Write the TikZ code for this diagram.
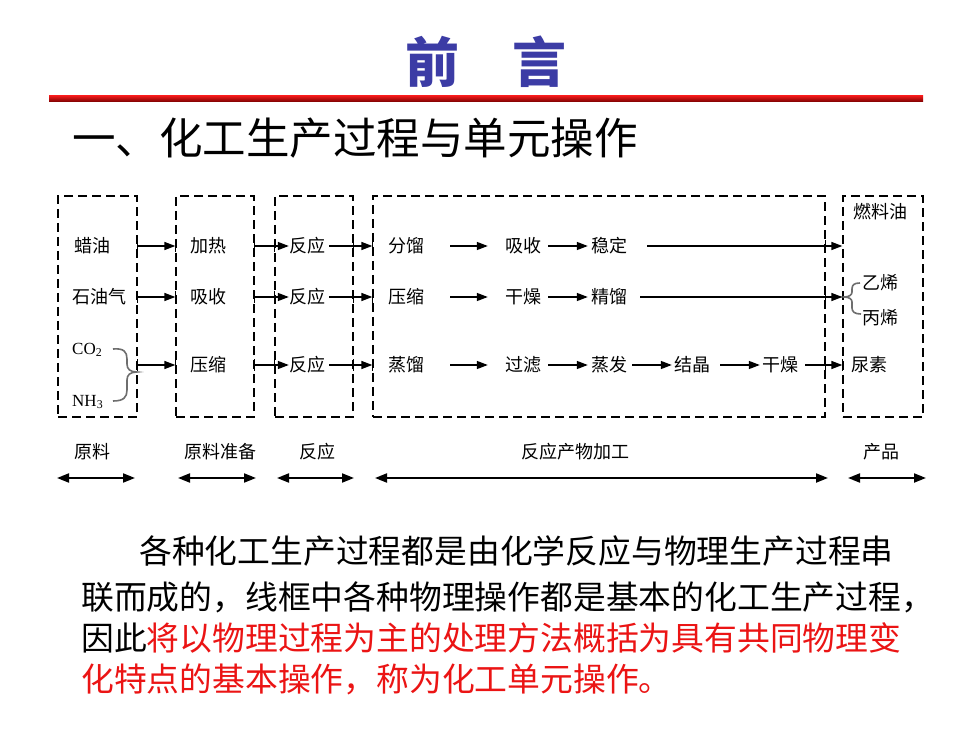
\documentclass[tikz,border=0pt]{standalone}
\usepackage{fontspec}
\setmainfont{Liberation Serif}
\newfontfamily\cjk{Noto Sans CJK SC}
\usetikzlibrary{arrows.meta}
\definecolor{titleblue}{RGB}{60,60,165}
\definecolor{redtxt}{RGB}{235,20,20}
\definecolor{bracegray}{RGB}{110,110,110}
\definecolor{bartop}{RGB}{235,25,25}
\definecolor{barbot}{RGB}{120,0,0}
\begin{document}
\begin{tikzpicture}[x=1pt,y=-1pt,
 box/.style={draw, dash pattern=on 9pt off 5pt, line width=1.3pt, minimum width=#1, minimum height=221pt, inner sep=0pt},
 lbl/.style={font=\cjk\fontsize{18}{20}\selectfont, inner sep=0pt},
 latin/.style={font=\fontsize{17}{19}\selectfont, inner sep=0pt},
 arr/.style={line width=1.4pt, -{Triangle[length=11pt,width=8pt]}},
 tk/.style={line width=1.4pt},
 dbl/.style={line width=2pt, {Triangle[length=12pt,width=9pt]}-{Triangle[length=12pt,width=9pt]}},
 brc/.style={draw=bracegray, line width=1.6pt},
 para/.style={font=\cjk\fontsize{32.8}{40}\selectfont, inner sep=0pt, anchor=west},
]
\fill[white] (0,0) rectangle (980,735);
\useasboundingbox (0,0) rectangle (980,735);

% title
\node[font=\cjk\bfseries\fontsize{54}{60}\selectfont, text=titleblue, inner sep=0pt] (title) at (486,62) {前\hspace{53pt}言};
\shade[top color=bartop, bottom color=barbot] (49,96) rectangle (923,102);
\node[font=\cjk\fontsize{43.5}{48}\selectfont, inner sep=0pt, anchor=west] (head) at (72,138) {一、化工生产过程与单元操作};

% boxes
\node[box=79pt] (b1) at (97.5,306.5) {};
\node[box=78pt] (b2) at (215,306.5) {};
\node[box=78pt] (b3) at (314,306.5) {};
\node[box=452pt] (b4) at (599,306.5) {};
\node[box=80pt] (b5) at (883,306.5) {};

% column 1
\node[lbl] (wax) at (92,246) {蜡油};
\node[lbl, anchor=west] (gas) at (72,297) {石油气};
\node[latin, anchor=west] (co2) at (72,350) {CO\textsubscript{2}};
\node[latin, anchor=west] (nh3) at (72,402) {NH\textsubscript{3}};
% column 2
\node[lbl] (heat) at (208,246) {加热};
\node[lbl] (absA) at (208,297) {吸收};
\node[lbl] (compA) at (208,365) {压缩};
% column 3
\node[lbl] (rx1) at (307,246) {反应};
\node[lbl] (rx2) at (307,297) {反应};
\node[lbl] (rx3) at (307,365) {反应};
% column 4
\node[lbl] (fen) at (406,246) {分馏};
\node[lbl] (ya) at (406,297) {压缩};
\node[lbl] (zheng) at (406,365) {蒸馏};
\node[lbl] (xi) at (523,246) {吸收};
\node[lbl] (gan) at (523,297) {干燥};
\node[lbl] (guo) at (523,365) {过滤};
\node[lbl] (wen) at (609,246) {稳定};
\node[lbl] (jing) at (609,297) {精馏};
\node[lbl] (fa) at (609,365) {蒸发};
\node[lbl] (jie) at (692,365) {结晶};
\node[lbl] (gz) at (780,365) {干燥};
% column 5
\node[lbl] (fuel) at (880,212) {燃料油};
\node[lbl, anchor=west] (yi) at (862,283) {乙烯};
\node[lbl, anchor=west] (bing) at (862,318) {丙烯};
\node[lbl] (niao) at (869,365) {尿素};

% braces
\draw[brc] (113,349) .. controls (124,348) and (127,352) .. (127,359) -- (127,364) .. controls (127,369) and (130,372) .. (137,372) .. controls (130,372) and (127,375) .. (127,380) -- (127,390) .. controls (127,397) and (124,401) .. (113,401);
\draw[brc] (860,283) .. controls (854,283) and (852,285) .. (852,289) -- (852,292) .. controls (852,295) and (849,297) .. (844,297) .. controls (849,297) and (852,299) .. (852,302) -- (852,308) .. controls (852,312) and (855,314) .. (861,314);

% row 1 arrows
\draw[arr] (b1.east |- wax) -- (b2.west |- wax);
\draw[arr] (b2.east |- heat) -- (rx1.west);
\draw[arr] ([xshift=4pt]rx1.east) -- (b4.west |- rx1);
\draw[arr] ([xshift=26pt]fen.east) -- ([xshift=-17pt]xi.west);
\draw[arr] ([xshift=7pt]xi.east) -- ([xshift=-3pt]wen.west);
\draw[arr] ([xshift=20pt]wen.east) -- (b5.west |- wen);
% row 2 arrows
\draw[arr] (b1.east |- absA) -- (b2.west |- absA);
\draw[arr] (b2.east |- absA) -- (rx2.west);
\draw[arr] ([xshift=4pt]rx2.east) -- (b4.west |- rx2);
\draw[arr] ([xshift=26pt]ya.east) -- ([xshift=-17pt]gan.west);
\draw[arr] ([xshift=7pt]gan.east) -- ([xshift=-3pt]jing.west);
\draw[arr] ([xshift=13pt]jing.east) -- (b5.west |- jing);
% row 3 arrows
\draw[arr] (b1.east |- compA) -- (b2.west |- compA);
\draw[arr] (b2.east |- compA) -- (rx3.west);
\draw[arr] ([xshift=4pt]rx3.east) -- (b4.west |- rx3);
\draw[arr] ([xshift=26pt]zheng.east) -- ([xshift=-17pt]guo.west);
\draw[arr] ([xshift=7pt]guo.east) -- ([xshift=-3pt]fa.west);
\draw[arr] ([xshift=5pt]fa.east) -- ([xshift=-2pt]jie.west);
\draw[arr] ([xshift=10pt]jie.east) -- ([xshift=-2pt]gz.west);
\draw[arr] ([xshift=7pt]gz.east) -- (b5.west |- gz);

% ticks where arrows cross box borders
\foreach \r in {wax,absA,compA}{
  \draw[tk] (b1.east |- \r) ++(0,-6) -- ++(0,12);
  \draw[tk] (b2.west |- \r) ++(0,-6) -- ++(0,12);
  \draw[tk] (b2.east |- \r) ++(0,-6) -- ++(0,12);
  \draw[tk] (b3.west |- \r) ++(0,-6) -- ++(0,12);
  \draw[tk] (b3.east |- \r) ++(0,-6) -- ++(0,12);
  \draw[tk] (b4.west |- \r) ++(0,-6) -- ++(0,12);
  \draw[tk] (b4.east |- \r) ++(0,-6) -- ++(0,12);
}
\draw[tk] (b5.west |- gz) ++(0,-6) -- ++(0,12);

% stage labels
\node[lbl] (s1) at (92,452) {原料};
\node[lbl] (s2) at (220,452) {原料准备};
\node[lbl] (s3) at (317,452) {反应};
\node[lbl] (s4) at (575,452) {反应产物加工};
\node[lbl] (s5) at (881,452) {产品};
\coordinate (a1l) at (57,478); \coordinate (a1r) at (135,478);
\coordinate (a2l) at (178,478); \coordinate (a2r) at (256,478);
\coordinate (a3l) at (277,478); \coordinate (a3r) at (354,478);
\coordinate (a4l) at (375,478); \coordinate (a4r) at (828,478);
\coordinate (a5l) at (848,478); \coordinate (a5r) at (926,478);
\draw[dbl] (a1l) -- (a1r);
\draw[dbl] (a2l) -- (a2r);
\draw[dbl] (a3l) -- (a3r);
\draw[dbl] (a4l) -- (a4r);
\draw[dbl] (a5l) -- (a5r);

% paragraph
\node[para] (p1) at (139,551) {各种化工生产过程都是由化学反应与物理生产过程串};
\node[para] (p2) at (81,597) {联而成的，线框中各种物理操作都是基本的化工生产过程，};
\node[para] (p3) at (81,638) {因此\textcolor{redtxt}{将以物理过程为主的处理方法概括为具有共同物理变}};
\node[para, text=redtxt] (p4) at (81,679) {化特点的基本操作，称为化工单元操作。};
\end{tikzpicture}
\end{document}
